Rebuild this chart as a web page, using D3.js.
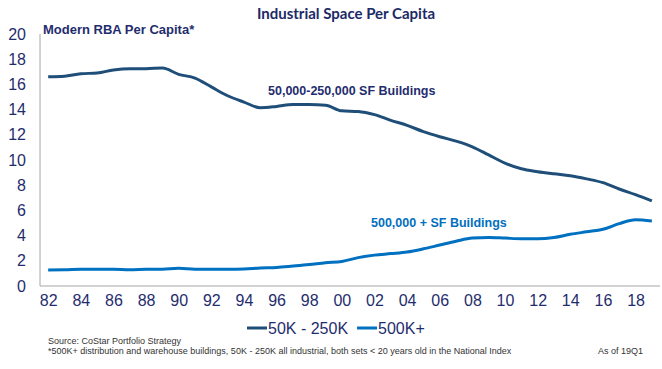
<!DOCTYPE html>
<html>
<head>
<meta charset="utf-8">
<script src="https://cdn.jsdelivr.net/npm/d3@7"></script>
<style>
  html, body { margin: 0; padding: 0; background: #fff; }
  svg { display: block; }
</style>
</head>
<body>
<svg id="chart" width="662" height="369"></svg>
<script>
const years = ["82","83","84","85","86","87","88","89","90","91","92","93","94","95","96","97","98","99",
  "00","01","02","03","04","05","06","07","08","09","10","11","12","13","14","15","16","17","18","19"];
const xTickLabels = ["82","84","86","88","90","92","94","96","98","00","02","04","06","08","10","12","14","16","18"];
const yTicks = [0,2,4,6,8,10,12,14,16,18,20];
const series50to250 = [16.6,16.65,16.85,16.9,17.15,17.25,17.25,17.3,16.8,16.5,15.8,15.1,14.6,14.15,14.25,14.4,14.4,14.35,
  13.9,13.85,13.6,13.15,12.75,12.25,11.85,11.5,11.05,10.4,9.75,9.3,9.07,8.9,8.75,8.5,8.2,7.7,7.25,6.75];
const series500plus = [1.27,1.28,1.33,1.33,1.33,1.28,1.32,1.33,1.4,1.33,1.33,1.33,1.35,1.43,1.47,1.58,1.7,1.85,
  1.95,2.25,2.45,2.57,2.7,2.95,3.25,3.55,3.8,3.85,3.8,3.75,3.75,3.85,4.1,4.3,4.5,4.95,5.25,5.15];
const seriesNames = ["50K - 250K", "500K+"];
const seriesColors = ["#1f4e79", "#0070c0"];

(function () {
const svg = d3.select("#chart");
const navy = "#1f2d6e";
const pLeft = 40, pRight = 660, pTop = 34, pBottom = 286;

const x = d3.scalePoint().domain(years).range([pLeft, pRight]).padding(0.5);
const y = d3.scaleLinear().domain([0, 20]).range([pBottom, pTop]);

// axes
const yAxis = d3.axisLeft(y).tickValues(yTicks).tickSize(0).tickPadding(14).tickFormat(d3.format("d"));
const gy = svg.append("g").attr("transform", `translate(${pLeft},0)`).call(yAxis);
gy.select(".domain").attr("stroke", "#a6a6a6").attr("d", `M0,${pTop}V${pBottom}`);
gy.selectAll("text").attr("fill", navy).style("font-family", "Liberation Sans, Arial, sans-serif").style("font-size", "16px");

const xAxis = d3.axisBottom(x).tickValues(xTickLabels).tickSize(0).tickPadding(9);
const gx = svg.append("g").attr("transform", `translate(0,${pBottom})`).call(xAxis);
gx.select(".domain").attr("stroke", "#a6a6a6").attr("d", `M${pLeft},0H${pRight}`);
gx.selectAll("text").attr("fill", navy).style("font-family", "Liberation Sans, Arial, sans-serif").style("font-size", "16px");

// lines
const line = d3.line().x((d, i) => x(years[i])).y(d => y(d)).curve(d3.curveMonotoneX);
[series50to250, series500plus].forEach((s, i) => {
  svg.append("path").datum(s).attr("d", line).attr("fill", "none")
    .attr("stroke", seriesColors[i]).attr("stroke-width", 3).attr("stroke-linejoin", "round");
});

// title
svg.append("text").attr("x", 346).attr("y", 19).attr("text-anchor", "middle")
  .style("font-family", "Lato, sans-serif").style("font-weight", "bold").style("font-size", "15px")
  .attr("fill", "#1c2a66").text("Industrial Space Per Capita");

svg.append("text").attr("x", 43).attr("y", 34)
  .style("font-family", "Liberation Sans, Arial, sans-serif").style("font-weight", "bold").style("font-size", "13px")
  .attr("fill", navy).text("Modern RBA Per Capita*");

// annotations
svg.append("text").attr("x", 268).attr("y", 95)
  .style("font-family", "Liberation Sans, Arial, sans-serif").style("font-weight", "bold").style("font-size", "12.5px")
  .attr("fill", navy).text("50,000-250,000 SF Buildings");
svg.append("text").attr("x", 371).attr("y", 227)
  .style("font-family", "Liberation Sans, Arial, sans-serif").style("font-weight", "bold").style("font-size", "12.5px")
  .attr("fill", "#0070c0").text("500,000 + SF Buildings");

// legend
const legend = svg.append("g").attr("transform", "translate(247,328)");
let lx = 0;
seriesNames.forEach((n, i) => {
  legend.append("line").attr("x1", lx).attr("x2", lx + 20).attr("y1", 0).attr("y2", 0)
    .attr("stroke", seriesColors[i]).attr("stroke-width", 3);
  const t = legend.append("text").attr("x", lx + 21).attr("y", 6)
    .style("font-family", "Liberation Sans, Arial, sans-serif").style("font-size", "16px")
    .attr("fill", navy).text(n);
  lx += 21 + t.node().getComputedTextLength() + 9;
});

// footnotes
const ff = "Liberation Sans, Arial, sans-serif";
svg.append("text").attr("x", 48).attr("y", 344).style("font-family", ff).style("font-size", "9px")
  .attr("fill", "#333").text("Source: CoStar Portfolio Strategy");
svg.append("text").attr("x", 48).attr("y", 354).style("font-family", ff).style("font-size", "9px")
  .attr("fill", "#333").text("*500K+ distribution and warehouse buildings, 50K - 250K all industrial, both sets < 20 years old in the National Index");
svg.append("text").attr("x", 643).attr("y", 354).attr("text-anchor", "end").style("font-family", ff).style("font-size", "9px")
  .attr("fill", "#333").text("As of 19Q1");
})();
</script>
</body>
</html>
